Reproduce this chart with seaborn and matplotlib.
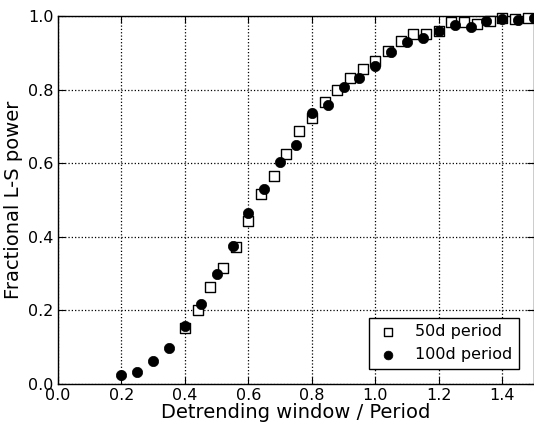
import matplotlib
matplotlib.use("Agg")
import matplotlib.pyplot as plt
import seaborn as sns
import pandas as pd

sns.set_style("ticks")
plt.rcParams['font.family'] = ['DejaVu Sans']
plt.rcParams['text.color'] = 'black'
plt.rcParams['axes.labelcolor'] = 'black'

x50 = [0.40, 0.44, 0.48, 0.52, 0.56, 0.60, 0.64, 0.68, 0.72, 0.76, 0.80, 0.84, 0.88, 0.92,
       0.96, 1.00, 1.04, 1.08, 1.12, 1.16, 1.20, 1.24, 1.28, 1.32, 1.36, 1.40, 1.44, 1.48]
y50 = [0.151, 0.200, 0.263, 0.316, 0.373, 0.444, 0.515, 0.566, 0.625, 0.688, 0.723, 0.765, 0.800, 0.832,
       0.855, 0.878, 0.906, 0.933, 0.950, 0.950, 0.960, 0.983, 0.984, 0.978, 0.987, 0.994, 0.991, 0.994]

x100 = [0.20, 0.25, 0.30, 0.35, 0.40, 0.45, 0.50, 0.55, 0.60, 0.65, 0.70, 0.75, 0.80, 0.85,
        0.90, 0.95, 1.00, 1.05, 1.10, 1.15, 1.20, 1.25, 1.30, 1.35, 1.40, 1.45, 1.50]
y100 = [0.024, 0.032, 0.063, 0.099, 0.158, 0.217, 0.299, 0.375, 0.466, 0.530, 0.603, 0.650, 0.736, 0.758,
        0.807, 0.832, 0.864, 0.902, 0.929, 0.940, 0.959, 0.975, 0.970, 0.986, 0.992, 0.989, 0.995]

df50 = pd.DataFrame({"x": x50, "y": y50})
df100 = pd.DataFrame({"x": x100, "y": y100})

fig = plt.figure(figsize=(5.34, 4.24), dpi=100)
ax = fig.add_axes([0.1086, 0.0943, 0.8914, 0.868])

sns.scatterplot(data=df50, x="x", y="y", ax=ax, marker="s", s=45, facecolor="white",
                edgecolor="black", linewidth=1.0, label="50d period", zorder=3, clip_on=False)
sns.scatterplot(data=df100, x="x", y="y", ax=ax, marker="o", s=55, color="black",
                edgecolor="black", linewidth=0.5, label="100d period", zorder=4, clip_on=False)

ax.set_xlim(0.0, 1.5)
ax.set_ylim(0.0, 1.0)
ax.set_xticks([0.0, 0.2, 0.4, 0.6, 0.8, 1.0, 1.2, 1.4])
ax.set_yticks([0.0, 0.2, 0.4, 0.6, 0.8, 1.0])
ax.set_xticklabels(["0.0", "0.2", "0.4", "0.6", "0.8", "1.0", "1.2", "1.4"])
ax.set_yticklabels(["0.0", "0.2", "0.4", "0.6", "0.8", "1.0"])
ax.tick_params(direction="in", length=5, labelsize=11.5, top=True, right=True,
               colors="black", labelcolor="black", pad=3)
ax.grid(True, linestyle=":", color="black", linewidth=0.9)
for sp in ax.spines.values():
    sp.set_visible(True)
    sp.set_color("black")
    sp.set_linewidth(1.0)

ax.set_xlabel("Detrending window / Period", fontsize=14, labelpad=0, color="black")
ax.set_ylabel("Fractional L-S power", fontsize=14, labelpad=4, color="black")

leg = ax.legend(loc="lower right", fontsize=11.5, frameon=True, fancybox=False,
                edgecolor="black", framealpha=1, borderpad=0.4, handletextpad=0.9,
                handlelength=1.6, markerscale=0.85, bbox_to_anchor=(0.985, 0.02))
leg.get_frame().set_linewidth(1.0)
for t in leg.get_texts():
    t.set_color("black")

fig.savefig("out.png", dpi=100)
